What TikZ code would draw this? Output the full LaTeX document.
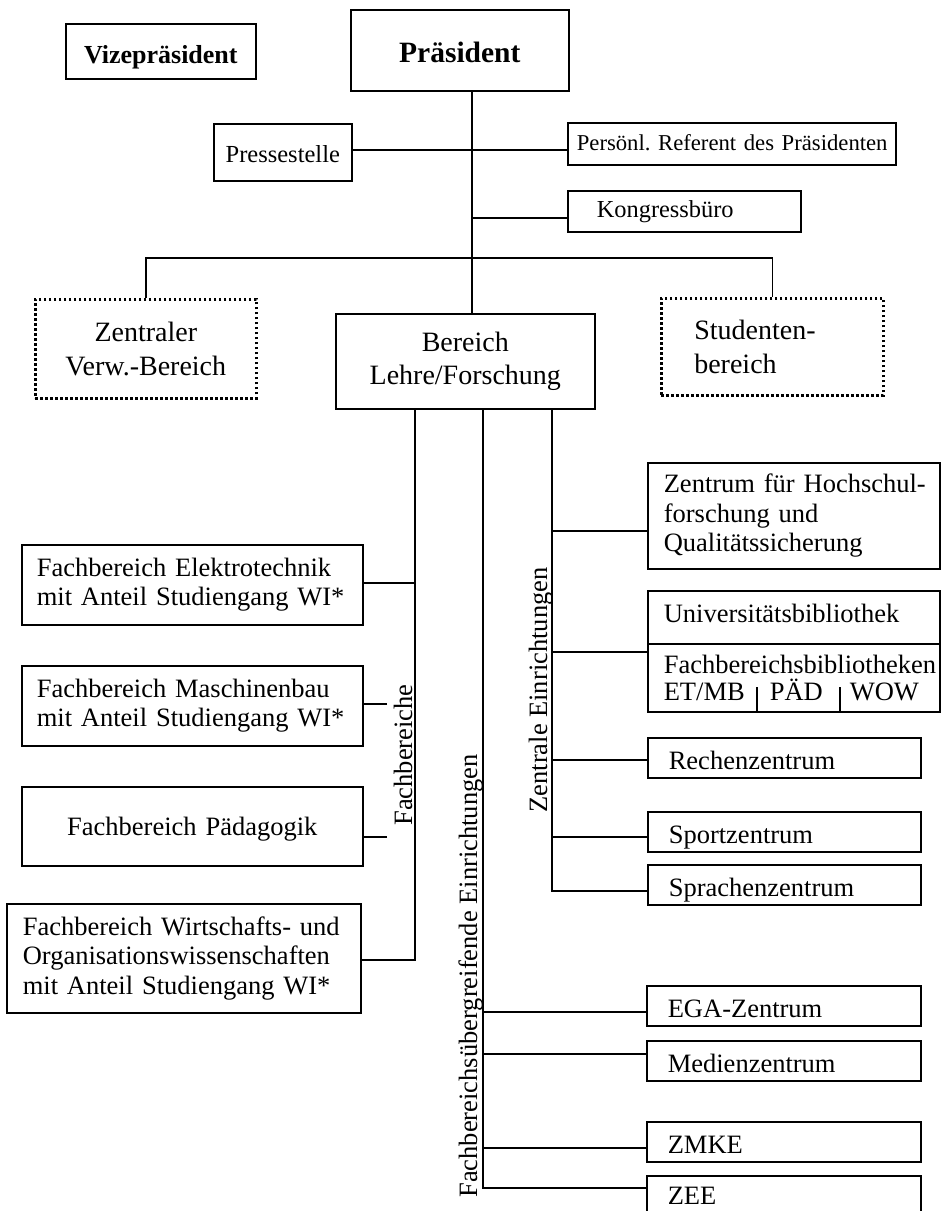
\documentclass[tikz,border=0pt]{standalone}
\usepackage{fontspec}
\setmainfont{Liberation Serif}
\hyphenpenalty=10000
\exhyphenpenalty=10000
\newcommand\fsN{\fontsize{26.5}{29.5}\selectfont}
\newcommand\fsM{\fontsize{28}{33.5}\selectfont}
\newcommand\fsB{\fontsize{26.5}{27}\selectfont}
\newcommand\fsVize{\fontsize{26}{30}\selectfont\bfseries}
\newcommand\fsPraes{\fontsize{29.5}{34}\selectfont\bfseries}
\newcommand\fsPresse{\fontsize{24.5}{28}\selectfont}
\newcommand\fsPers{\fontsize{22.7}{26}\selectfont}
\newcommand\fsKong{\fontsize{24.4}{28}\selectfont}
\begin{document}
\begin{tikzpicture}[x=1pt,y=-1pt,
  conn/.style={line width=1.6pt},
  bx/.style={draw, line width=1.6pt, rectangle, anchor=north west, inner ysep=0pt, font=\fsN},
  dbx/.style={draw, line width=2.6pt, dash pattern=on 2.6pt off 2.4pt, rectangle, anchor=north west, inner ysep=0pt, font=\fsM},
  one/.style={text height=24pt, text depth=0pt},
  vlab/.style={font=\fsN, rotate=90, anchor=base, inner sep=0pt}
]
\useasboundingbox (0,0) rectangle (941,1211);
\clip (0,0) rectangle (941,1211);

% top level
\node[bx, font=\fsVize, minimum width=190pt, minimum height=55pt, text height=25pt, text depth=0pt] (vize) at (65,23) {Vizepräsident};
\node[bx, font=\fsPraes, minimum width=218pt, minimum height=81pt, text height=25pt, text depth=0pt] (praes) at (350,9) {Präsident};
\node[bx, font=\fsPresse, minimum width=138pt, minimum height=57pt, text height=21pt, text depth=0pt] (presse) at (213,123) {Pressestelle};
\node[bx, font=\fsPers, minimum height=42pt, text width=310pt, inner xsep=9pt, align=left, text height=14pt, text depth=0pt] (pers) at (567,122) {Persönl.~Referent~des~Präsidenten};
\node[bx, font=\fsKong, minimum height=41pt, text width=175pt, inner xsep=29pt, align=left, text height=13pt, text depth=0pt] (kong) at (567,190) {Kongressbüro};

% second level
\node[dbx, minimum width=221pt, minimum height=99pt, align=center] (zv) at (34,298) {Zentraler\\Verw.-Bereich};
\node[bx, font=\fsM, minimum width=259pt, minimum height=95pt, align=center] (blf) at (335,313) {Bereich\\Lehre/Forschung};
\node[dbx, minimum height=97pt, text width=156pt, inner xsep=33pt, align=left] (sb) at (660,297) {Studenten-\\bereich};

% Fachbereiche
\node[bx, minimum height=80pt, text width=311pt, inner xsep=15pt, align=left] (elek) at (21,544) {Fachbereich~Elektrotechnik\\mit~Anteil~Studiengang~WI*};
\node[bx, minimum height=80pt, text width=311pt, inner xsep=15pt, align=left] (masch) at (21,665) {Fachbereich~Maschinenbau\\mit~Anteil~Studiengang~WI*};
\node[bx, minimum height=79pt, text width=311pt, inner xsep=15pt, align=center, text height=19pt, text depth=0pt] (paed) at (21,786) {Fachbereich~Pädagogik};
\node[bx, minimum height=109pt, text width=322pt, inner xsep=16pt, align=left] (wirt) at (6,903) {Fachbereich~Wirtschafts-~und\\Organisationswissenschaften\\mit~Anteil~Studiengang~WI*};

% Zentrale Einrichtungen
\node[bx, minimum height=106pt, text width=260pt, inner xsep=16pt, align=left] (zent) at (647,462) {Zentrum~für~Hochschul-\\forschung~und\\Qualitätssicherung};
\node[bx, minimum height=53pt, text width=260pt, inner xsep=16pt, align=left, text height=18pt, text depth=7pt] (ubib) at (647,590) {Universitätsbibliothek};
\node[bx, font=\fsB, minimum height=68pt, text width=260pt, inner xsep=16pt, align=left] (fbib) at (647,643) {Fachbereichsbibliotheken\\ET/MB\hspace{25pt}PÄD\hspace{27pt}WOW};
\node[bx, one, minimum height=40pt, text width=231pt, inner xsep=21pt, align=left] (rech) at (647,737) {Rechenzentrum};
\node[bx, one, minimum height=40pt, text width=231pt, inner xsep=21pt, align=left] (sport) at (647,811) {Sportzentrum};
\node[bx, one, minimum height=40pt, text width=231pt, inner xsep=21pt, align=left] (sprach) at (647,864) {Sprachenzentrum};

% Fachbereichsuebergreifende Einrichtungen
\node[bx, one, minimum height=40pt, text width=232pt, inner xsep=21pt, align=left] (ega) at (646,985) {EGA-Zentrum};
\node[bx, one, minimum height=40pt, text width=232pt, inner xsep=21pt, align=left] (medien) at (646,1040) {Medienzentrum};
\node[bx, one, minimum height=40pt, text width=232pt, inner xsep=21pt, align=left] (zmke) at (646,1121) {ZMKE};
\node[bx, minimum height=40pt, text width=232pt, inner xsep=21pt, align=left, text height=17pt, text depth=0pt] (zee) at (646,1175) {ZEE};

% vertical labels
\node[vlab] (lfb) at (412,755) {Fachbereiche};
\node[vlab] (lze) at (547,690) {Zentrale Einrichtungen};
\node[vlab] (lfue) at (477,976) {Fachbereichsübergreifende Einrichtungen};

% divider bars in library box
\draw[conn] (fbib.south west) ++(110,0) -- ++(0,-26);
\draw[conn] (fbib.south west) ++(193,0) -- ++(0,-26);

% connectors top
\coordinate (tX) at (472,0);
\coordinate (yP) at (0,150);
\coordinate (kJ) at (472,218);
\coordinate (bY) at (0,258);
\draw[conn] (praes.south -| tX) -- (blf.north -| tX);
\draw[conn] (presse.east |- yP) -- (pers.west |- yP);
\draw[conn] (kJ) -- (kJ -| kong.west);
\draw[conn] (zv.north) -- (zv.north |- bY) -- (sb.north |- bY) -- (sb.north);

% Fachbereiche bus
\coordinate (jE) at (415,583);
\coordinate (jW) at (415,960);
\coordinate (sM) at (387,704);
\coordinate (sP) at (387,837);
\draw[conn] (blf.south -| jE) -- (jW) -- (jW -| wirt.east);
\draw[conn] (jE) -- (jE -| elek.east);
\draw[conn] (sM) -- (sM -| masch.east);
\draw[conn] (sP) -- (sP -| paed.east);

% Zentrale Einrichtungen bus
\coordinate (z1) at (552,531);
\coordinate (z2) at (552,652);
\coordinate (z3) at (552,760);
\coordinate (z4) at (552,837);
\coordinate (z5) at (552,891);
\draw[conn] (blf.south -| z5) -- (z5) -- (z5 -| sprach.west);
\draw[conn] (z1) -- (z1 -| zent.west);
\draw[conn] (z2) -- (z2 -| fbib.west);
\draw[conn] (z3) -- (z3 -| rech.west);
\draw[conn] (z4) -- (z4 -| sport.west);

% Fachbereichsuebergreifende bus
\coordinate (u1) at (483,1012);
\coordinate (u2) at (483,1054);
\coordinate (u3) at (483,1148);
\coordinate (u4) at (483,1188);
\draw[conn] (blf.south -| u4) -- (u4) -- (u4 -| zee.west);
\draw[conn] (u1) -- (u1 -| ega.west);
\draw[conn] (u2) -- (u2 -| medien.west);
\draw[conn] (u3) -- (u3 -| zmke.west);
\end{tikzpicture}
\end{document}
